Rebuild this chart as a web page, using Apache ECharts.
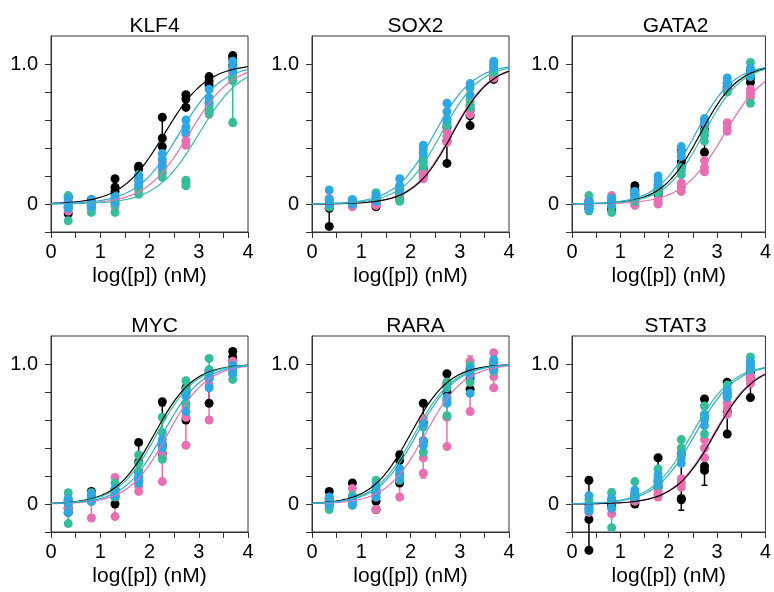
<!DOCTYPE html>
<html><head><meta charset="utf-8">
<script src="https://cdn.jsdelivr.net/npm/echarts@6/dist/echarts.min.js"></script>
<style>html,body{margin:0;padding:0;background:#fff}#c{width:774px;height:592px}</style>
</head><body><div id="c"></div>
<script>
// ---------- data ----------
const xLog = [0.35, 0.82, 1.30, 1.78, 2.26, 2.74, 3.21, 3.69];
const panelNames = ['KLF4', 'SOX2', 'GATA2', 'MYC', 'RARA', 'STAT3'];
const seriesNames = ['black', 'pink', 'green', 'blue'];
const seriesColors = ['#000000', '#E670B1', '#36BE9B', '#2EA8E1'];
const curveOrder = [1, 0, 2, 3];
const xTickValues = [0, 1, 2, 3, 4];
const xTickLabels = ['0', '1', '2', '3', '4'];
const yTickValues = [0, 1];
const yTickLabels = ['0', '1.0'];

// replicate values at each concentration (order of xLog)
const KLF4_black = [[0.05,-0.02,-0.07],[0.03,0.01,-0.01],[0.18,0.12,0.09],[0.27,0.25,0.20],[0.62,0.47,0.41],[0.78,0.75,0.69],[0.91,0.88,0.85],[1.06,1.04,0.99]];
const KLF4_pink  = [[0.02,-0.03,-0.05],[0.01,-0.02,-0.03],[0.03,0.00,-0.02],[0.17,0.13,0.10],[0.30,0.27,0.24],[0.50,0.45,0.42],[0.70,0.67,0.64],[0.97,0.93,0.90]];
const KLF4_green = [[0.06,-0.02,-0.12],[0.00,-0.03,-0.06],[0.05,0.00,-0.06],[0.21,0.12,0.07],[0.27,0.22,0.19],[0.17,0.15,0.13],[0.72,0.68,0.65],[0.90,0.88,0.58]];
const KLF4_blue  = [[0.04,0.00,-0.03],[0.03,0.00,-0.02],[0.06,0.03,0.01],[0.20,0.17,0.14],[0.36,0.32,0.27],[0.60,0.55,0.51],[0.82,0.76,0.73],[1.02,0.98,0.95]];

const SOX2_black = [[0.00,-0.03,-0.16],[0.02,0.00,-0.01],[0.03,0.00,-0.02],[0.10,0.07,0.04],[0.25,0.22,0.20],[0.55,0.45,0.29],[0.67,0.63,0.56],[0.93,0.90,0.89]];
const SOX2_pink  = [[0.04,0.01,-0.02],[0.01,-0.01,-0.02],[0.04,0.01,-0.01],[0.09,0.06,0.03],[0.23,0.20,0.18],[0.52,0.48,0.44],[0.70,0.67,0.64],[0.94,0.92,0.90]];
const SOX2_green = [[0.03,0.00,-0.02],[0.03,0.01,0.00],[0.08,0.06,0.03],[0.11,0.08,0.02],[0.33,0.30,0.27],[0.61,0.58,0.56],[0.74,0.71,0.69],[0.98,0.96,0.94]];
const SOX2_blue  = [[0.10,0.03,0.00],[0.03,0.01,0.00],[0.06,0.04,0.02],[0.18,0.13,0.10],[0.42,0.39,0.36],[0.72,0.66,0.60],[0.86,0.83,0.78],[1.02,1.00,0.98]];

const GATA2_black = [[0.02,-0.01,-0.03],[0.02,-0.02,-0.04],[0.13,0.10,0.07],[0.11,0.09,0.07],[0.38,0.30,0.26],[0.57,0.53,0.37],[0.86,0.84,0.82],[0.95,0.90,0.87]];
const GATA2_pink  = [[0.03,0.00,-0.02],[0.06,0.03,0.00],[0.02,0.00,-0.01],[0.03,0.01,0.00],[0.15,0.12,0.09],[0.31,0.26,0.23],[0.58,0.55,0.52],[0.82,0.79,0.76]];
const GATA2_green = [[0.06,0.00,-0.05],[0.04,-0.02,-0.06],[0.07,0.04,0.02],[0.13,0.11,0.08],[0.26,0.24,0.21],[0.52,0.49,0.45],[0.84,0.82,0.80],[1.01,0.92,0.72]];
const GATA2_blue  = [[0.02,-0.01,-0.04],[0.04,0.02,0.00],[0.09,0.06,0.04],[0.20,0.17,0.14],[0.41,0.37,0.34],[0.61,0.60,0.58],[0.90,0.87,0.84],[0.97,0.94,0.91]];

const MYC_black = [[0.02,-0.03,-0.06],[0.09,0.06,0.03],[0.10,0.05,0.00],[0.44,0.30,0.23],[0.73,0.42,0.36],[0.83,0.79,0.60],[0.95,0.90,0.72],[1.09,1.05,1.02]];
const MYC_pink  = [[0.03,0.00,-0.03],[0.06,0.02,-0.10],[0.19,0.06,-0.09],[0.17,0.13,0.09],[0.37,0.33,0.16],[0.70,0.62,0.42],[0.90,0.85,0.60],[1.02,0.98,0.95]];
const MYC_green = [[0.08,0.02,-0.14],[0.08,0.05,0.02],[0.15,0.10,0.05],[0.35,0.29,0.23],[0.62,0.51,0.32],[0.88,0.82,0.72],[1.04,0.96,0.92],[0.97,0.93,0.89]];
const MYC_blue  = [[0.04,0.00,-0.06],[0.07,0.04,0.02],[0.11,0.08,0.06],[0.20,0.17,0.15],[0.46,0.43,0.40],[0.80,0.77,0.66],[0.93,0.90,0.83],[0.99,0.96,0.93]];

const RARA_black = [[0.09,0.04,0.00],[0.15,0.05,0.02],[0.08,0.02,-0.04],[0.35,0.31,0.15],[0.72,0.58,0.45],[0.93,0.86,0.80],[0.96,0.90,0.82],[1.01,0.98,0.96]];
const RARA_pink  = [[0.04,0.01,-0.02],[0.11,0.04,0.00],[0.10,0.05,-0.04],[0.22,0.18,0.05],[0.61,0.33,0.22],[0.87,0.62,0.41],[1.02,0.93,0.66],[1.08,0.91,0.83]];
const RARA_green = [[0.03,0.00,-0.04],[0.06,0.02,-0.01],[0.17,0.12,0.08],[0.25,0.21,0.17],[0.55,0.44,0.37],[0.87,0.83,0.63],[0.99,0.93,0.87],[1.01,0.98,0.95]];
const RARA_blue  = [[0.05,0.02,-0.01],[0.04,0.02,0.00],[0.13,0.09,0.05],[0.25,0.21,0.18],[0.57,0.45,0.42],[0.76,0.74,0.72],[0.97,0.92,0.79],[1.03,0.99,0.96]];

const STAT3_black = [[0.17,-0.11,-0.33],[0.03,0.00,-0.02],[0.05,0.02,0.00],[0.33,0.16,0.12],[0.36,0.04,0.03],[0.75,0.27,0.24],[0.87,0.66,0.50],[0.94,0.90,0.76]];
const STAT3_pink  = [[0.00,-0.03,-0.06],[0.02,-0.03,-0.07],[0.07,0.04,0.02],[0.09,0.07,0.05],[0.18,0.15,0.12],[0.46,0.40,0.33],[0.72,0.68,0.64],[0.92,0.89,0.86]];
const STAT3_green = [[0.03,0.00,-0.04],[0.08,0.02,-0.17],[0.16,0.08,0.04],[0.25,0.18,0.13],[0.46,0.40,0.36],[0.70,0.62,0.50],[0.85,0.80,0.77],[1.05,1.00,0.97]];
const STAT3_blue  = [[0.06,-0.02,-0.05],[0.04,0.01,-0.03],[0.10,0.07,0.04],[0.21,0.17,0.14],[0.36,0.33,0.29],[0.64,0.60,0.56],[0.82,0.79,0.76],[1.02,0.99,0.96]];

// fitted dose-response parameters (logEC50, Hill slope), order: black, pink, green, blue
const KLF4_logEC50  = [2.30, 2.80, 3.00, 2.60];
const KLF4_hill     = [1.00, 1.00, 1.00, 1.00];
const SOX2_logEC50  = [2.85, 2.83, 2.62, 2.48];
const SOX2_hill     = [1.10, 1.10, 1.10, 1.10];
const GATA2_logEC50 = [2.65, 3.15, 2.72, 2.55];
const GATA2_hill    = [1.10, 1.00, 1.10, 1.10];
const MYC_logEC50   = [2.10, 2.37, 2.15, 2.27];
const MYC_hill      = [1.10, 1.10, 1.10, 1.10];
const RARA_logEC50  = [2.00, 2.30, 2.08, 2.13];
const RARA_hill     = [1.10, 1.10, 1.10, 1.10];
const STAT3_logEC50 = [2.95, 2.93, 2.48, 2.55];
const STAT3_hill    = [1.05, 1.05, 1.05, 1.05];

// ---------- build ----------
const panelData = [
  [KLF4_black, KLF4_pink, KLF4_green, KLF4_blue],
  [SOX2_black, SOX2_pink, SOX2_green, SOX2_blue],
  [GATA2_black, GATA2_pink, GATA2_green, GATA2_blue],
  [MYC_black, MYC_pink, MYC_green, MYC_blue],
  [RARA_black, RARA_pink, RARA_green, RARA_blue],
  [STAT3_black, STAT3_pink, STAT3_green, STAT3_blue]
];
const panelEC50 = [KLF4_logEC50, SOX2_logEC50, GATA2_logEC50, MYC_logEC50, RARA_logEC50, STAT3_logEC50];
const panelHill = [KLF4_hill, SOX2_hill, GATA2_hill, MYC_hill, RARA_hill, STAT3_hill];

const gridLefts = [51, 312, 572];
const gridTops = [36, 336];
const gridW = 197, gridH = 196;
const FONT = "'Liberation Sans', Arial, Helvetica, sans-serif";
const AX = '#333333';

const grids = [], xAxes = [], yAxes = [], titles = [], series = [];

function meanSd(arr) {
  const n = arr.length;
  const m = arr.reduce((a, b) => a + b, 0) / n;
  const v = arr.reduce((a, b) => a + (b - m) * (b - m), 0) / (n - 1);
  return [m, Math.sqrt(v)];
}

function errRender(c) {
  return function (params, api) {
    const x = api.value(0), lo = api.value(1), hi = api.value(2);
    const a = api.coord([x, hi]), b = api.coord([x, lo]);
    const w = 3;
    const st = {stroke: c, lineWidth: 1.5, fill: null};
    return {type: 'group', children: [
      {type: 'line', shape: {x1: a[0], y1: a[1], x2: b[0], y2: b[1]}, style: st},
      {type: 'line', shape: {x1: a[0] - w, y1: a[1], x2: a[0] + w, y2: a[1]}, style: st},
      {type: 'line', shape: {x1: b[0] - w, y1: b[1], x2: b[0] + w, y2: b[1]}, style: st}
    ]};
  };
}

for (let p = 0; p < 6; p++) {
  const col = p % 3, row = Math.floor(p / 3);
  const left = gridLefts[col], top = gridTops[row];
  grids.push({left: left, top: top, width: gridW, height: gridH, show: true,
    borderColor: AX, borderWidth: 1, backgroundColor: 'transparent', containLabel: false});
  titles.push({text: panelNames[p], left: left + gridW / 2, top: top - 25, textAlign: 'center',
    textStyle: {fontSize: 21, fontWeight: 'normal', color: '#000', fontFamily: FONT}});
  xAxes.push({gridIndex: p, type: 'value', min: 0, max: 4, interval: 0.5,
    axisLine: {show: true, onZero: false, lineStyle: {color: AX, width: 1}},
    axisTick: {show: true, length: 6, inside: false, lineStyle: {color: AX, width: 1}},
    axisLabel: {show: true, customValues: xTickValues, margin: 10, fontSize: 20, color: '#000', fontFamily: FONT,
      formatter: v => { const i = xTickValues.findIndex(t => Math.abs(t - v) < 1e-6); return i >= 0 ? xTickLabels[i] : ''; }},
    splitLine: {show: false},
    name: 'log([p]) (nM)', nameLocation: 'middle', nameGap: 34,
    nameTextStyle: {fontSize: 21, color: '#000', fontFamily: FONT}});
  yAxes.push({gridIndex: p, type: 'value', min: -0.2, max: 1.2, interval: 0.2,
    axisLine: {show: true, onZero: false, lineStyle: {color: AX, width: 1}},
    axisTick: {show: true, length: 6, inside: false, customValues: [-0.2, 0, 0.2, 0.4, 0.6, 0.8, 1.0], lineStyle: {color: AX, width: 1}},
    axisLabel: {show: true, customValues: yTickValues, margin: 13, fontSize: 20, color: '#000', fontFamily: FONT,
      formatter: v => { const i = yTickValues.findIndex(t => Math.abs(t - v) < 1e-6); return i >= 0 ? yTickLabels[i] : ''; }},
    splitLine: {show: false}});

  // points and error bars
  for (let s = 0; s < 4; s++) {
    const reps = panelData[p][s];
    const color = seriesColors[s];
    const pts = [], bars = [];
    reps.forEach((vals, i) => {
      vals.forEach(v => pts.push([xLog[i], v]));
      const ms = meanSd(vals);
      bars.push([xLog[i], ms[0] - ms[1], ms[0] + ms[1]]);
    });
    series.push({
      name: panelNames[p] + ' ' + seriesNames[s] + ' SD', type: 'custom', xAxisIndex: p, yAxisIndex: p,
      silent: true, clip: false, z: 2,
      encode: {x: 0, y: [1, 2]},
      data: bars,
      renderItem: errRender(color)
    });
    series.push({
      name: panelNames[p] + ' ' + seriesNames[s], type: 'scatter', xAxisIndex: p, yAxisIndex: p,
      symbol: 'circle', symbolSize: 9, silent: true, clip: false, z: 2,
      itemStyle: {color: color, opacity: 1},
      data: pts
    });
  }
  // fitted curves
  curveOrder.forEach(s => {
    const color = seriesColors[s];
    const e = panelEC50[p][s], h = panelHill[p][s];
    const curve = [];
    for (let k = 0; k <= 200; k++) {
      const x = k * 0.02;
      curve.push([x, 1 / (1 + Math.pow(10, (e - x) * h))]);
    }
    series.push({
      name: panelNames[p] + ' ' + seriesNames[s] + ' fit', type: 'line', xAxisIndex: p, yAxisIndex: p,
      showSymbol: false, symbol: 'none', smooth: false, silent: true, z: 3,
      lineStyle: {color: color, width: 1.2},
      data: curve
    });
  });
}

const chart = echarts.init(document.getElementById('c'), null, {renderer: 'canvas'});
chart.setOption({
  animation: false,
  backgroundColor: '#ffffff',
  textStyle: {fontFamily: FONT},
  title: titles,
  grid: grids,
  xAxis: xAxes,
  yAxis: yAxes,
  series: series
});
</script>
</body></html>
